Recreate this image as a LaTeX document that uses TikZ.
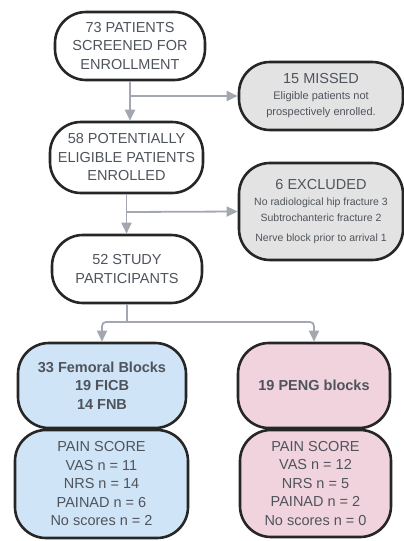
\documentclass[tikz,border=0pt]{standalone}
\usepackage{fontspec}
\setmainfont{Liberation Sans}
\usetikzlibrary{arrows.meta}
\definecolor{txt}{HTML}{4F545C}
\definecolor{edge}{HTML}{262626}
\definecolor{conn}{HTML}{A3A8B0}
\definecolor{grayfill}{HTML}{E3E3E3}
\definecolor{bluefill}{HTML}{CFE4F7}
\definecolor{pinkfill}{HTML}{F1D3DE}
\tikzset{
  box/.style={draw=edge, line width=2.6pt, rounded corners=31pt, rectangle,
    inner sep=0pt, align=center, text=txt, font=\fontsize{14.5}{18.5}\selectfont},
  conn/.style={draw=conn, line width=1.8pt, -{Triangle[length=11pt,width=10pt]}},
  plain/.style={draw=conn, line width=1.8pt},
}
\begin{document}
\begin{tikzpicture}[x=1pt,y=-1pt]
\useasboundingbox (0,0) rectangle (404,541);
\node[box, fill=white, minimum width=150pt, minimum height=68pt] (b1) at (130,46)
  {73 PATIENTS\\SCREENED FOR\\ENROLLMENT};
\node[box, fill=grayfill, minimum width=164pt, minimum height=68pt] (miss) at (321,96)
  {15 MISSED\\[-3pt]{\fontsize{11}{15}\selectfont Eligible patients not}\\[-2pt]{\fontsize{11}{15}\selectfont prospectively enrolled.}};
\node[box, fill=grayfill, minimum width=164pt, minimum height=97pt] (excl) at (321,211.5)
  {6 EXCLUDED\\[-3pt]{\fontsize{10.5}{15}\selectfont No radiological hip fracture 3}\\[-2pt]{\fontsize{10.5}{15}\selectfont Subtrochanteric fracture 2}\\[1pt]{\fontsize{10.5}{15}\selectfont Nerve block prior to arrival 1}};
\node[box, fill=white, minimum width=153pt, minimum height=71pt] (b2) at (126.5,157.5)
  {58 POTENTIALLY\\ELIGIBLE PATIENTS\\ENROLLED};
\node[box, fill=white, minimum width=150pt, minimum height=68pt] (b3) at (127,269)
  {52 STUDY\\PARTICIPANTS};
\node[box, fill=bluefill, minimum width=168pt, minimum height=85pt,
  font=\bfseries\fontsize{14.5}{18.5}\selectfont] (blue1) at (102,385.5)
  {33 Femoral Blocks\\19 FICB\\14 FNB};
\node[box, fill=bluefill, minimum width=173pt, minimum height=108pt] (blue2) at (101.5,484)
  {PAIN SCORE\\VAS n = 11\\NRS n = 14\\PAINAD n = 6\\No scores n = 2};
\node[box, fill=pinkfill, minimum width=152pt, minimum height=85pt,
  font=\bfseries\fontsize{14.5}{18.5}\selectfont] (pink1) at (314,385.5)
  {19 PENG blocks};
\node[box, fill=pinkfill, minimum width=151pt, minimum height=107pt] (pink2) at (315.5,483.5)
  {PAIN SCORE\\VAS n = 12\\NRS n = 5\\PAINAD n = 2\\No scores n = 0};
\coordinate (s1) at (130,96);
\coordinate (s2) at (127,212);
\coordinate (s3) at (127,322);
\draw[conn] (b1.south) -- (b1.south |- b2.north);
\draw[conn] (s1) -- (miss.west);
\draw[conn] (b2.south) -- (b2.south |- b3.north);
\draw[conn] (s2) -- (excl.west);
\draw[plain] (b3.south) -- (s3);
\draw[conn, rounded corners=4pt] (s3) -| (blue1.north);
\draw[conn, rounded corners=4pt] (s3) -| (pink1.north);
\end{tikzpicture}
\end{document}
